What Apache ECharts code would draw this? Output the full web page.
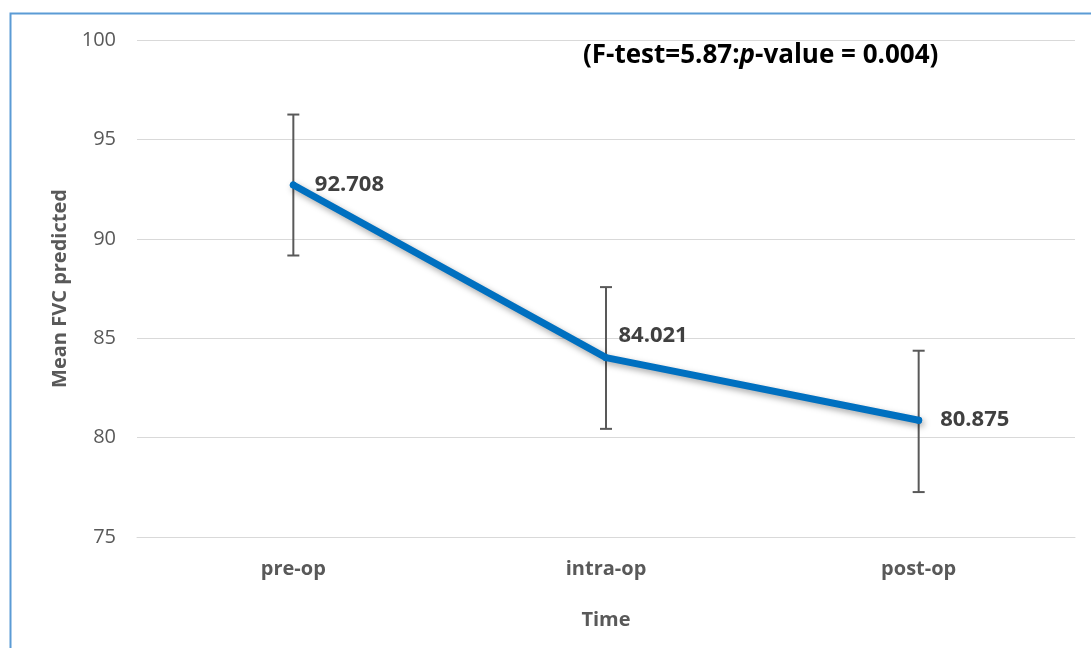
<!DOCTYPE html>
<html>
<head>
<meta charset="utf-8">
<script src="https://cdn.jsdelivr.net/npm/echarts@6/dist/echarts.min.js"></script>
<style>html,body{margin:0;padding:0;background:#fff}#c{width:1091px;height:648px}</style>
</head>
<body>
<div id="c"></div>
<script>
var categories = ['pre-op', 'intra-op', 'post-op'];
var meanValues = [92.708, 84.021, 80.875];
var lowerValues = [89.16, 80.44, 77.26];
var upperValues = [96.25, 87.57, 84.37];
var yTicks = [75, 80, 85, 90, 95, 100];

var FONT = '"Open Sans", Lato, sans-serif';
var chart = echarts.init(document.getElementById('c'));
var errData = categories.map(function (c, i) { return [i, lowerValues[i], upperValues[i]]; });
var labelOffsets = [[0, 0], [-9, -22], [0, 0]];

chart.setOption({
  animation: false,
  backgroundColor: '#fff',
  grid: { left: 137, right: 16, top: 40, bottom: 111 },
  xAxis: {
    type: 'category',
    data: categories,
    boundaryGap: true,
    axisLine: { show: true, lineStyle: { color: '#D9D9D9', width: 1 } },
    axisTick: { show: false },
    axisLabel: { color: '#595959', fontFamily: FONT, fontWeight: 'bold', fontSize: 20, margin: 22 },
    name: 'Time',
    nameLocation: 'middle',
    nameGap: 73,
    nameTextStyle: { color: '#595959', fontFamily: FONT, fontWeight: 'bold', fontSize: 20 }
  },
  yAxis: {
    type: 'value',
    min: yTicks[0],
    max: yTicks[yTicks.length - 1],
    interval: 5,
    axisLine: { show: false },
    axisTick: { show: false },
    splitLine: { lineStyle: { color: '#D9D9D9', width: 1 } },
    axisLabel: { color: '#595959', fontFamily: FONT, fontSize: 20, margin: 21 },
    name: 'Mean FVC predicted',
    nameLocation: 'middle',
    nameGap: 64,
    nameTextStyle: { color: '#595959', fontFamily: FONT, fontWeight: 'bold', fontSize: 20 }
  },
  series: [
    {
      type: 'custom',
      data: errData,
      z: 3,
      renderItem: function (params, api) {
        var x = api.value(0);
        var lo = api.coord([x, api.value(1)]);
        var hi = api.coord([x, api.value(2)]);
        var hw = 6;
        var st = { stroke: '#595959', lineWidth: 2 };
        return {
          type: 'group',
          children: [
            { type: 'line', shape: { x1: hi[0], y1: hi[1], x2: lo[0], y2: lo[1] }, style: st },
            { type: 'line', shape: { x1: hi[0] - hw, y1: hi[1], x2: hi[0] + hw, y2: hi[1] }, style: st },
            { type: 'line', shape: { x1: lo[0] - hw, y1: lo[1], x2: lo[0] + hw, y2: lo[1] }, style: st }
          ]
        };
      }
    },
    {
      type: 'line',
      data: meanValues.map(function (v, i) {
        return { value: v, label: { offset: labelOffsets[i] } };
      }),
      z: 4,
      showSymbol: true,
      symbol: 'circle',
      symbolSize: 7,
      itemStyle: { color: '#0070C0' },
      lineStyle: {
        color: '#0070C0', width: 7, cap: 'round', join: 'round',
        shadowColor: 'rgba(0,0,0,0.35)', shadowBlur: 6, shadowOffsetX: 2, shadowOffsetY: 3
      },
      label: {
        show: true,
        position: 'right',
        distance: 18,
        color: '#404040',
        fontFamily: FONT,
        fontWeight: 'bold',
        fontSize: 22,
        formatter: function (p) { return p.value.toFixed(3); }
      }
    }
  ],
  graphic: [
    {
      type: 'rect',
      left: 8, top: 11,
      shape: { width: 1200, height: 800 },
      style: { fill: 'none', stroke: '#5B9BD5', lineWidth: 2 },
      silent: true
    },
    {
      type: 'text',
      left: 583, top: 43,
      style: {
        text: '{a|(F-test=5.87:}{i|p}{a|-value = 0.004)}',
        rich: {
          a: { fontFamily: FONT, fontWeight: 'bold', fontSize: 26, fill: '#000' },
          i: { fontFamily: FONT, fontWeight: 'bold', fontStyle: 'italic', fontSize: 26, fill: '#000' }
        }
      }
    }
  ]
});
</script>
</body>
</html>
